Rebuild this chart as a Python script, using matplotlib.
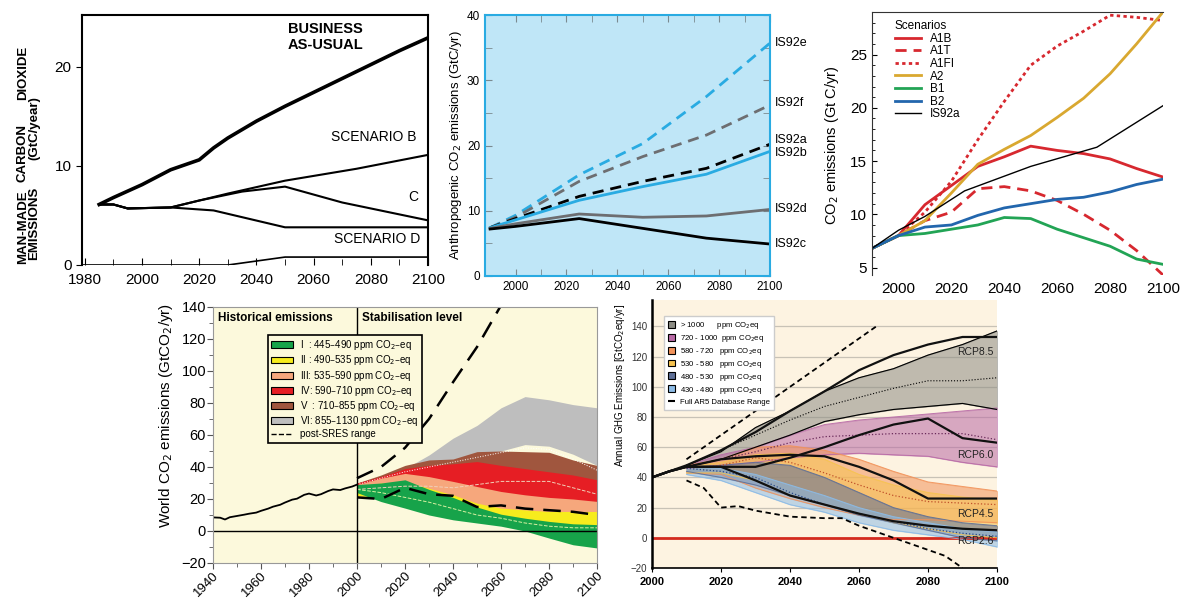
import numpy as np
import matplotlib
matplotlib.use('Agg')
import matplotlib.pyplot as plt
from matplotlib.patches import Patch
from matplotlib.lines import Line2D

plt.rcParams['font.family'] = ['Liberation Sans', 'DejaVu Sans']

# ---------- panel 1: 1990 scenarios ----------
p1_years = [1985, 1990, 2000, 2010, 2020, 2025, 2030, 2040, 2050, 2060, 2070, 2080, 2090, 2100]
bau = [6.1, 6.8, 8.1, 9.6, 10.6, 11.8, 12.8, 14.5, 16.0, 17.4, 18.8, 20.2, 21.6, 22.9]
scen_b_years = [1985, 1990, 1995, 2010, 2020, 2030, 2050, 2075, 2100]
scen_b = [6.1, 6.1, 5.7, 5.8, 6.5, 7.2, 8.5, 9.7, 11.1]
scen_c_years = [1985, 1990, 1995, 2010, 2020, 2035, 2050, 2070, 2100]
scen_c = [6.1, 6.1, 5.7, 5.8, 6.5, 7.4, 7.9, 6.3, 4.5]
scen_d_years = [1985, 1990, 1995, 2010, 2020, 2025, 2050, 2100]
scen_d = [6.1, 6.1, 5.7, 5.8, 5.6, 5.5, 3.8, 3.8]
base_years = [1979, 2030, 2050, 2100]
base_line = [0.0, 0.0, 0.8, 0.8]

# ---------- panel 2: IS92 ----------
is92_years = [1990, 2000, 2025, 2050, 2075, 2100]
is92e = [7.4, 9.3, 15.5, 20.3, 27.5, 35.7]
is92f = [7.4, 9.0, 14.5, 18.3, 21.6, 26.2]
is92a = [7.4, 8.8, 12.2, 14.5, 16.5, 20.2]
is92b = [7.4, 8.6, 11.6, 13.7, 15.6, 19.1]
is92d = [7.3, 8.0, 9.5, 9.0, 9.2, 10.2]
is92c = [7.2, 7.6, 8.8, 7.3, 5.8, 4.9]

# ---------- panel 3: SRES ----------
sres_years = [1990, 2000, 2010, 2020, 2030, 2040, 2050, 2060, 2070, 2080, 2090, 2100]
a1b = [6.8, 8.0, 10.9, 12.7, 14.5, 15.4, 16.4, 16.0, 15.7, 15.2, 14.3, 13.5]
a1t = [6.8, 8.0, 9.4, 10.2, 12.4, 12.6, 12.2, 11.3, 10.0, 8.5, 6.6, 4.3]
a1fi = [6.8, 8.0, 10.2, 13.1, 17.0, 20.6, 24.0, 25.8, 27.2, 28.7, 28.5, 28.2]
a2 = [6.8, 8.0, 9.4, 12.0, 14.7, 16.1, 17.4, 19.1, 20.9, 23.2, 26.0, 29.0]
b1 = [6.8, 8.0, 8.2, 8.6, 9.0, 9.7, 9.6, 8.6, 7.8, 7.0, 5.8, 5.3]
b2 = [6.8, 8.0, 8.8, 9.0, 9.9, 10.6, 11.0, 11.4, 11.6, 12.1, 12.8, 13.3]
is92a_years3 = [1990, 2000, 2010, 2025, 2050, 2075, 2100]
is92a3 = [6.8, 8.5, 9.8, 12.2, 14.5, 16.3, 20.2]

# ---------- panel 4: stabilisation categories ----------
hist_years = [1940, 1943, 1945, 1947, 1950, 1953, 1955, 1958, 1960, 1963, 1965, 1968, 1970,
              1973, 1975, 1978, 1980, 1983, 1985, 1988, 1990, 1993, 1995, 1998, 2000]
hist_vals = [8.5, 8.3, 7.2, 8.6, 9.4, 10.2, 10.8, 11.5, 12.6, 14.0, 15.2, 16.4, 17.8,
             19.6, 20.2, 22.6, 23.4, 22.2, 23.0, 25.0, 26.0, 25.6, 26.6, 27.8, 29.0]
stab_years = [2000, 2010, 2020, 2030, 2040, 2050, 2060, 2070, 2080, 2090, 2100]
cat6_lo = [28, 31, 36, 40, 42, 46, 50, 54, 53, 48, 41]
cat6_hi = [30, 34, 39, 47.5, 58, 66, 77, 84, 82, 79, 77]
cat5_lo = [27, 30, 33, 34, 34, 33, 32, 32, 31, 30, 29]
cat5_hi = [30, 35, 41, 44.4, 45, 49.6, 50, 49.6, 49.2, 44.4, 41]
cat4_lo = [27, 29, 31, 30, 28, 25, 22, 20, 18, 17, 17]
cat4_hi = [30, 34, 39, 41, 42, 43.4, 41, 39, 37, 35, 32]
cat3_lo = [22, 22, 22, 20, 17, 14, 12, 11, 11, 11, 11]
cat3_hi = [29, 33, 36, 34, 31, 27.8, 24.7, 22.6, 21, 20, 18.5]
cat2_lo = [22, 21, 19, 15, 11, 8, 6, 4.5, 4, 4, 4]
cat2_hi = [27, 30, 31, 26.7, 22.6, 17.4, 14.3, 13.2, 12.2, 12.2, 12.2]
cat1_lo = [24, 18.4, 14.3, 10, 7, 5, 3, 0, -4.4, -8.6, -10.6]
cat1_hi = [29, 30, 32, 26, 21, 15, 10.5, 8, 6, 4.5, 4]
cat6_med = [29, 33, 37, 40, 43, 46, 49, 52, 51, 45, 38]
cat3_med = [26, 27, 28, 28, 27, 29, 31, 31, 31, 27, 23]
cat1_med = [26, 24, 21, 18, 14, 10, 8, 5, 3, 2, 2]
sres_hi_years = [2000, 2010, 2020, 2030, 2040, 2050, 2060]
sres_hi = [33, 40, 52, 70, 93, 115, 141]
sres_lo = [21, 20, 27, 23, 22, 15, 16, 14, 13, 12, 10]
cat_labels = ['I  : 445\u2013490 ppm CO$_2$\u2013eq', 'II : 490\u2013535 ppm CO$_2$\u2013eq',
              'III: 535\u2013590 ppm CO$_2$\u2013eq', 'IV: 590\u2013710 ppm CO$_2$\u2013eq',
              'V  : 710\u2013855 ppm CO$_2$\u2013eq', 'VI: 855\u20131130 ppm CO$_2$\u2013eq']

# ---------- panel 5: AR5 ----------
ar5_years = [2010, 2020, 2030, 2040, 2050, 2060, 2070, 2080, 2090, 2100]
g1000_hi = [48, 57, 73, 84, 97, 106, 112, 121, 128, 137]
g1000_lo = [47, 52, 60, 68, 77, 81.5, 85, 87, 89, 85]
g720_hi = [48, 55, 60, 68, 75, 78, 80, 82, 84, 86]
g720_lo = [46, 48, 50, 53, 55, 56, 55, 54, 50, 47]
g580_hi = [48, 52, 60, 61, 58, 52, 44, 37, 34, 31]
g580_lo = [43, 42, 33, 26, 20, 15, 12, 12, 11, 10]
g530_hi = [47, 50, 55, 56, 52, 42, 35, 30, 27, 25]
g530_lo = [43, 43, 38, 28, 22, 16, 10, 6, 2, 0]
g480_hi = [47, 48, 50, 48, 40, 30, 20, 14, 10, 8]
g480_lo = [44, 40, 35, 28, 22, 15, 10, 5, 0, -2]
g430_hi = [47, 46, 42, 35, 28, 20, 14, 10, 6, 4]
g430_lo = [42, 38, 30, 22, 17, 10, 5, 2, -1, -6]
g1000_med = [48, 58, 68, 78, 87, 93, 99, 104, 104, 106]
g720_med = [47, 52, 57, 63, 67, 68, 69, 69, 69, 65]
g580_med = [46, 48, 53, 50, 43, 35, 28, 24, 23, 22]
g430_med = [46, 44, 40, 30, 22, 16, 11, 6, 3, 1]
rcp_years = [2000, 2005, 2010, 2020, 2030, 2040, 2050, 2060, 2070, 2080, 2090, 2100]
rcp85 = [40, 44, 48, 58, 70, 84, 97, 111, 121, 128, 133, 133]
rcp60 = [40, 44, 47, 47, 47, 53, 60, 68, 75, 79, 66, 63]
rcp45 = [40, 44, 47, 52, 54, 55, 54, 47, 38, 26, 26, 26]
rcp26 = [40, 44, 47, 47, 38, 28, 22, 16, 11, 8, 6, 5]
full_hi_years = [2010, 2065]
full_hi = [52, 140]
full_lo_years = [2010, 2015, 2020, 2025, 2030, 2040, 2050, 2055, 2060, 2070, 2080, 2085, 2090]
full_lo = [38, 33, 20, 21, 18, 14, 13, 13, 8, 0, -8, -12, -20]
ar5_labels = ['> 1000      ppm CO$_2$eq', '720 - 1000  ppm CO$_2$eq', '580 - 720   ppm CO$_2$eq',
              '530 - 580   ppm CO$_2$eq', '480 - 530   ppm CO$_2$eq', '430 - 480   ppm CO$_2$eq']

W, H = 1184, 598
fig = plt.figure(figsize=(W / 100, H / 100), dpi=100)


def px_axes(l, t, r, b):
    return fig.add_axes([l / W, 1 - b / H, (r - l) / W, (b - t) / H])


# ===== panel 1 =====
ax1 = px_axes(82, 15, 428, 265)
ax1.plot(p1_years, bau, color='black', lw=2.6)
ax1.plot(scen_b_years, scen_b, color='black', lw=1.5)
ax1.plot(scen_c_years, scen_c, color='black', lw=1.5)
ax1.plot(scen_d_years, scen_d, color='black', lw=1.5)
ax1.plot(base_years, base_line, color='black', lw=1.2)
ax1.set_xlim(1979, 2100)
ax1.set_ylim(0, 25.2)
ax1.set_xticks(np.arange(1980, 2101, 20))
ax1.set_xticks(np.arange(1980, 2101, 10), minor=True)
ax1.set_yticks([0, 10, 20])
ax1.tick_params(axis='x', direction='in', length=5, labelsize=11, pad=6)
ax1.tick_params(axis='x', which='minor', direction='in', length=4)
ax1.tick_params(axis='y', direction='out', length=4, labelsize=11)
for s in ax1.spines.values():
    s.set_linewidth(1.5)
ax1.spines['bottom'].set_visible(False)
ax1.text(2051, 23, 'BUSINESS\nAS-USUAL', fontweight='bold', fontsize=10.5, va='center', linespacing=1.2)
ax1.text(2066, 12.9, 'SCENARIO B', fontsize=10, va='center')
ax1.text(2093, 6.9, 'C', fontsize=10, va='center')
ax1.text(2067, 2.6, 'SCENARIO D', fontsize=10, va='center')
for word, xp, yp in [('MAN-MADE', 23, 227), ('CARBON', 23, 153), ('DIOXIDE', 23, 73),
                     ('EMISSIONS', 34, 223), ('(GtC/year)', 34, 128)]:
    fig.text(xp / W, 1 - yp / H, word, rotation=90, fontweight='bold', fontsize=9.5,
             ha='center', va='center')

# ===== panel 2 =====
cyan = '#29abe2'
grey2 = '#6d6e71'
ax2 = px_axes(485, 15, 770, 276)
ax2.set_facecolor('#bfe6f7')
ax2.plot(is92_years, is92e, color=cyan, lw=2, ls=(0, (4, 2.5)))
ax2.plot(is92_years, is92f, color=grey2, lw=2, ls=(0, (4, 2.5)))
ax2.plot(is92_years, is92a, color='black', lw=2, ls=(0, (4, 2.5)))
ax2.plot(is92_years, is92b, color=cyan, lw=2)
ax2.plot(is92_years, is92d, color=grey2, lw=2)
ax2.plot(is92_years, is92c, color='black', lw=2)
ax2.set_xlim(1988, 2100)
ax2.set_ylim(0, 40)
ax2.set_xticks(np.arange(2000, 2101, 20))
ax2.set_xticks(np.arange(2000, 2101, 10), minor=True)
ax2.set_yticks(np.arange(0, 41, 10))
ax2.set_yticks(np.arange(0, 41, 5), minor=True)
ax2.tick_params(which='both', direction='in', top=True, right=True, color='#7a8a90', labelsize=8.5)
ax2.tick_params(which='major', length=5)
ax2.tick_params(which='minor', length=5)
for s in ax2.spines.values():
    s.set_color(cyan)
    s.set_linewidth(1.5)
ax2.set_ylabel('Anthropogenic CO$_2$ emissions (GtC/yr)', fontsize=9.5, labelpad=2)
for lab, v in [('IS92e', 35.7), ('IS92f', 26.5), ('IS92a', 20.9), ('IS92b', 18.9),
               ('IS92d', 10.3), ('IS92c', 4.9)]:
    ax2.text(2102, v, lab, fontsize=9, va='center', clip_on=False)

# ===== panel 3 =====
red3 = '#d7282f'
ax3 = px_axes(872, 12, 1163, 275)
ax3.plot(sres_years, a1b, color=red3, lw=2, label='A1B')
ax3.plot(sres_years, a1t, color=red3, lw=2, ls=(0, (4, 2.5)), label='A1T')
ax3.plot(sres_years, a1fi, color=red3, lw=2, ls=(0, (1.2, 1.2)), label='A1FI')
ax3.plot(sres_years, a2, color='#d9a830', lw=2, label='A2')
ax3.plot(sres_years, b1, color='#22a455', lw=2, label='B1')
ax3.plot(sres_years, b2, color='#2266ad', lw=2, label='B2')
ax3.plot(is92a_years3, is92a3, color='black', lw=1, label='IS92a')
ax3.set_xlim(1990, 2100)
ax3.set_ylim(4.3, 29)
ax3.set_xticks(np.arange(2000, 2101, 20))
ax3.set_yticks(np.arange(5, 26, 5))
ax3.set_yticks(np.arange(5, 30, 1), minor=True)
ax3.tick_params(axis='y', which='both', direction='in', labelsize=11)
ax3.tick_params(axis='y', which='minor', length=2.5)
ax3.tick_params(axis='x', length=0, labelsize=11, pad=5)
for s in ax3.spines.values():
    s.set_color('#333333')
    s.set_linewidth(0.8)
ax3.spines['right'].set_visible(False)
ax3.spines['bottom'].set_visible(False)
ax3.legend(title='Scenarios', loc='upper left', frameon=False, fontsize=8.5, title_fontsize=8.5,
           handlelength=2.2, labelspacing=0.05, borderaxespad=0.3, alignment='left',
           bbox_to_anchor=(0.05, 1.0))
fig.text(832 / W, 1 - 145 / H, 'CO$_2$ emissions (Gt C/yr)', rotation=90, fontsize=10.5,
         ha='center', va='center')

# ===== panel 4 =====
cat_colors = ['#17a34a', '#f7ec1d', '#f6a77c', '#e61e24', '#a0563e', '#bebebe']
ax4 = px_axes(213, 307, 597, 563)
ax4.set_facecolor('#fcf9dc')
bands = [(cat6_lo, cat6_hi), (cat5_lo, cat5_hi), (cat4_lo, cat4_hi),
         (cat3_lo, cat3_hi), (cat2_lo, cat2_hi), (cat1_lo, cat1_hi)]
for (lo, hi), col in zip(bands, cat_colors[::-1]):
    ax4.fill_between(stab_years, lo, hi, color=col, lw=0)
ax4.plot(stab_years, cat6_med, color='white', lw=0.7, ls=':')
ax4.plot(stab_years, cat3_med, color='#f2d0b8', lw=0.7, ls='--')
ax4.plot(stab_years, cat1_med, color='#d8f0a0', lw=0.7, ls='--')
ax4.plot(hist_years, hist_vals, color='black', lw=1.3)
ax4.plot(sres_hi_years, sres_hi, color='black', lw=1.8, ls=(0, (7, 4)))
ax4.plot(stab_years, sres_lo, color='black', lw=1.8, ls=(0, (7, 4)))
ax4.axhline(0, color='black', lw=1)
ax4.axvline(2000, color='black', lw=1)
ax4.set_xlim(1940, 2100)
ax4.set_ylim(-20, 140)
ax4.set_xticks(np.arange(1940, 2101, 20))
ax4.set_xticks(np.arange(1940, 2101, 10), minor=True)
ax4.set_yticks(np.arange(-20, 141, 20))
ax4.set_yticks(np.arange(-20, 141, 10), minor=True)
ax4.tick_params(which='both', direction='out', color='#555555')
ax4.tick_params(axis='y', labelsize=10.5, pad=1)
ax4.tick_params(axis='x', labelsize=9.5, pad=1)
ax4.tick_params(which='major', length=4)
ax4.tick_params(which='minor', length=3)
plt.setp(ax4.get_xticklabels(), rotation=45, ha='right', rotation_mode='anchor')
for s in ax4.spines.values():
    s.set_color('#999999')
ax4.set_ylabel('World CO$_2$ emissions (GtCO$_2$/yr)', fontsize=11)
ax4.yaxis.set_label_coords(-0.099, 0.578)
ax4.text(1942, 133, 'Historical emissions', fontweight='bold', fontsize=8.5, va='center')
ax4.text(2002, 133, 'Stabilisation level', fontweight='bold', fontsize=8.5, va='center')
handles4 = [Patch(facecolor=c, edgecolor='black', lw=0.8) for c in cat_colors]
handles4.append(Line2D([0], [0], color='black', lw=1, ls='--'))
leg4 = ax4.legend(handles4, cat_labels + ['post-SRES range'], loc='upper left',
                  bbox_to_anchor=(0.13, 0.91), fontsize=7, handlelength=2.2, handleheight=0.7,
                  labelspacing=0.12, borderpad=0.35, fancybox=False, framealpha=1,
                  facecolor='#fcf9dc', edgecolor='black')
leg4.get_frame().set_linewidth(1.2)

# ===== panel 5 =====
ar5_colors = ['#8c8c84', '#b86aa6', '#f2935a', '#f6c350', '#5e6f96', '#8cbbe6']
ax5 = px_axes(652, 300, 997, 568)
ax5.set_facecolor('#fdf3e1')
for yv in range(-20, 141, 20):
    ax5.axhline(yv, color='#c8c2b6', lw=0.9, zorder=0)
ar5_bands = [(g1000_lo, g1000_hi), (g720_lo, g720_hi), (g580_lo, g580_hi),
             (g530_lo, g530_hi), (g480_lo, g480_hi), (g430_lo, g430_hi)]
for (lo, hi), col in zip(ar5_bands, ar5_colors):
    ax5.fill_between(ar5_years, lo, hi, color=col, alpha=0.55, lw=0.6, edgecolor=col)
    ax5.plot(ar5_years, lo, color=col, lw=0.7, alpha=0.9)
    ax5.plot(ar5_years, hi, color=col, lw=0.7, alpha=0.9)
ax5.plot(ar5_years, g1000_lo, color='black', lw=0.8)
ax5.plot(ar5_years, g1000_hi, color='black', lw=0.8)
ax5.plot(ar5_years, g1000_med, color='black', lw=0.8, ls=':')
ax5.plot(ar5_years, g720_med, color='#6a2a5a', lw=0.9, ls=':')
ax5.plot(ar5_years, g580_med, color='#c0502a', lw=0.9, ls=':')
ax5.plot(ar5_years, g430_med, color='#2a4a8a', lw=0.9, ls=':')
ax5.axhline(0, color='#d42a1e', lw=2, zorder=1)
for r in [rcp85, rcp60, rcp45, rcp26]:
    ax5.plot(rcp_years, r, color='#111111', lw=1.6)
ax5.plot(full_hi_years, full_hi, color='black', lw=1.3, ls=(0, (3, 2)))
ax5.plot(full_lo_years, full_lo, color='black', lw=1.3, ls=(0, (3, 2)))
ax5.set_xlim(2000, 2100)
ax5.set_ylim(-20, 157.5)
ax5.set_xticks(np.arange(2000, 2101, 20))
ax5.set_yticks(np.arange(-20, 141, 20))
ax5.tick_params(axis='y', length=0, labelsize=7, colors='#333333')
ax5.tick_params(axis='x', length=3, labelsize=8)
for t in ax5.get_xticklabels():
    t.set_fontweight('bold')
ax5.spines['top'].set_visible(False)
ax5.spines['right'].set_visible(False)
ax5.spines['left'].set_linewidth(1.8)
ax5.spines['bottom'].set_linewidth(1.2)
ax5.set_ylabel('Annual GHG Emissions [GtCO$_2$eq/yr]', fontsize=7)
ax5.yaxis.set_label_coords(-0.072, 0.68)
ax5.text(2099, 123, 'RCP8.5', fontsize=7.5, ha='right', va='center', color='#222222')
ax5.text(2099, 55, 'RCP6.0', fontsize=7.5, ha='right', va='center', color='#222222')
ax5.text(2099, 16, 'RCP4.5', fontsize=7.5, ha='right', va='center', color='#222222')
ax5.text(2099, -2, 'RCP2.6', fontsize=7.5, ha='right', va='center', color='#222222')
handles5 = [Patch(facecolor=c, edgecolor='black', lw=0.8) for c in ar5_colors]
handles5.append(Line2D([0], [0], color='black', lw=1.5, ls='--'))
leg5 = ax5.legend(handles5, ar5_labels + ['Full AR5 Database Range'], loc='upper left',
                  bbox_to_anchor=(0.023, 0.955), fontsize=5.6, handlelength=1.0, handleheight=1.0,
                  labelspacing=0.25, borderpad=0.5, handletextpad=0.6, fancybox=False,
                  framealpha=1, facecolor='white', edgecolor='#cccccc')

fig.savefig('out.png', dpi=100)
